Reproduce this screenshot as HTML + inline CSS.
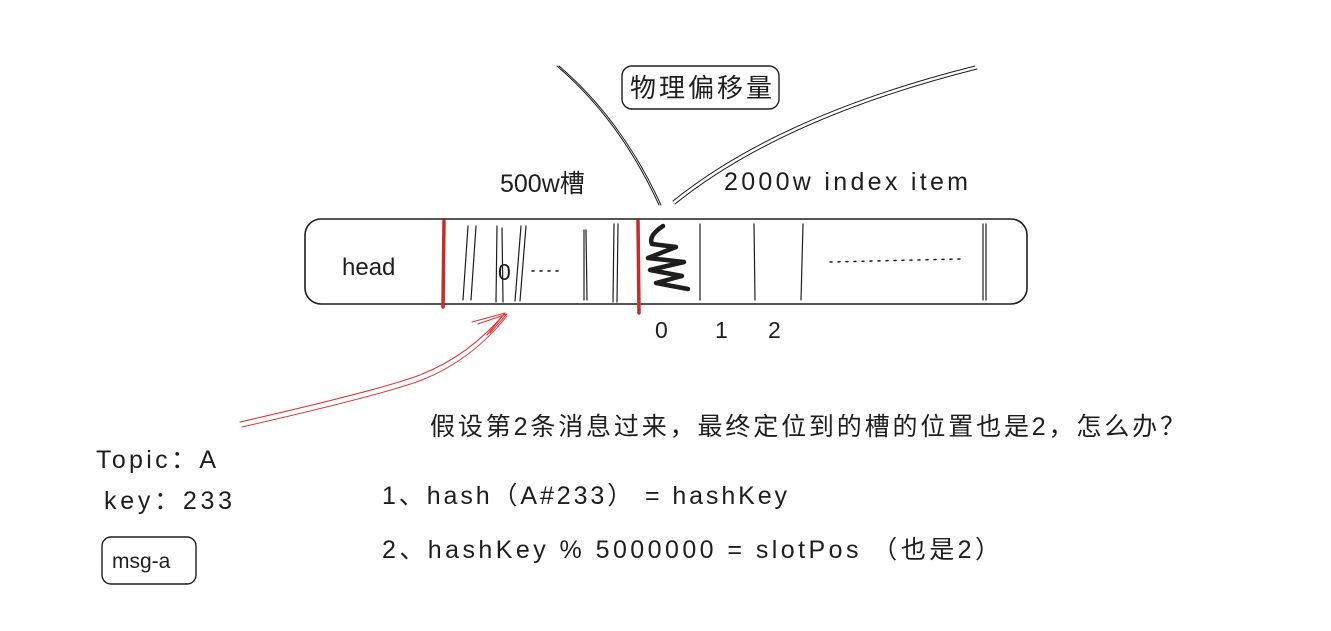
<!DOCTYPE html>
<html><head><meta charset="utf-8"><style>
html,body{margin:0;padding:0;background:#fff;width:1331px;height:631px;overflow:hidden}
text{font-family:"Liberation Sans","Noto Sans CJK SC",sans-serif;fill:#1e1e1e}
</style></head><body>
<svg width="1331" height="631" viewBox="0 0 1331 631" xmlns="http://www.w3.org/2000/svg">
<g fill="none" stroke="#1e1e1e" stroke-linecap="round">
  <rect x="305" y="219" width="722" height="85" rx="16" stroke-width="1.6"/>
  <g stroke-width="1.2">
    <path d="M468 226 L463 300"/><path d="M476 226 L471 300"/>
    <path d="M497 226 L496 302"/><path d="M502 228 L503 302"/>
    <path d="M521 226 L515 301"/><path d="M526 226 L520 301"/>
    <path d="M584 230 L584 300"/><path d="M586 230 L587 300"/>
    <path d="M614 224 L613 302"/><path d="M618 224 L617 302"/>
    <path d="M700 224 L700 300"/><path d="M754 224 L755 300"/>
    <path d="M803 224 L801 300"/><path d="M983 224 L983 300"/><path d="M986 224 L986 300"/>
  </g>
  <path d="M444 221 L443 307" stroke="#c92a2a" stroke-width="3.5"/>
  <path d="M638 221 L639 313" stroke="#c92a2a" stroke-width="3.5"/>
  <path d="M663 226 Q648 236 652 244 L676 247 L648 258 L684 262 L650 270 L682 276 L656 283 L688 289" stroke-width="4.5" stroke-linejoin="round"/>
  <path d="M830 262 L960 259" stroke-width="1.5" stroke-dasharray="2 6"/>
  <path d="M532 271 L562 271" stroke-width="1.5" stroke-dasharray="2 6"/>
  <path d="M557 66 Q620 120 659 205" stroke-width="1"/>
  <path d="M559 66 Q622 120 661 205" stroke-width="1"/>
  <path d="M673 201 Q780 115 975 66" stroke-width="1"/>
  <path d="M675 204 Q782 118 977 69" stroke-width="1"/>
  <rect x="622" y="66" width="157" height="43" rx="10" stroke-width="1.4"/>
  <rect x="102" y="537" width="94" height="47" rx="9" stroke-width="1.4"/>
  <g stroke="#d33" stroke-width="1">
    <path d="M240 422 Q380 390 420 375 Q470 355 505 313"/>
    <path d="M242 427 Q382 395 422 380 Q472 360 507 316"/>
    <path d="M505 313 L472 322 M505 313 L487 335 M507 314 L478 324 M507 314 L490 333"/>
  </g>
</g>
<text x="342" y="275" font-size="24">head</text>
<text x="498" y="280" font-size="23">0</text>
<text x="500" y="192" font-size="25">500w槽</text>
<text x="724" y="190" font-size="25" textLength="244">2000w index item</text>
<text x="630" y="97" font-size="26" textLength="142">物理偏移量</text>
<text x="655" y="338" font-size="23">0</text>
<text x="715" y="338" font-size="23">1</text>
<text x="768" y="338" font-size="23">2</text>
<text x="430" y="435" font-size="25" textLength="755">假设第2条消息过来，最终定位到的槽的位置也是2，怎么办？</text>
<text x="96" y="468" font-size="25" textLength="120">Topic：A</text>
<text x="104" y="509" font-size="25" textLength="128">key：233</text>
<text x="112" y="568" font-size="21">msg-a</text>
<text x="382" y="504" font-size="25" textLength="405">1、hash（A#233） = hashKey</text>
<text x="382" y="558" font-size="25" textLength="618">2、hashKey % 5000000 = slotPos （也是2）</text>
</svg>
</body></html>
